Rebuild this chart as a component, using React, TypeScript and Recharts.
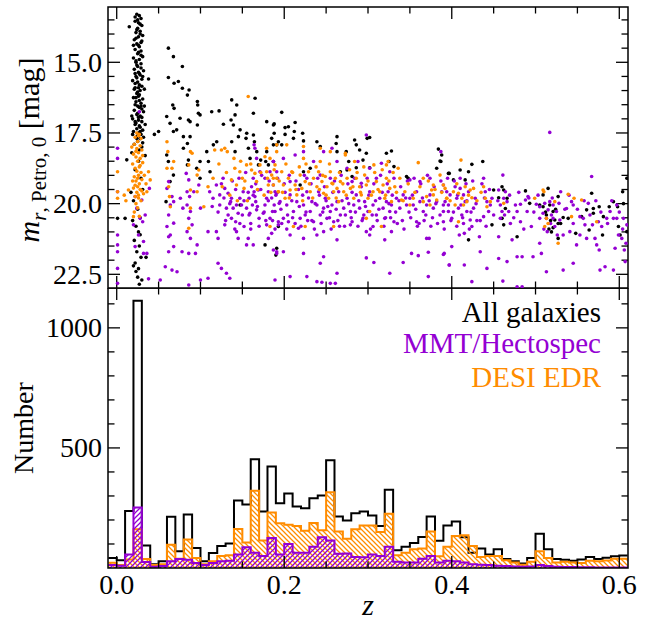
import React from 'react';
import {
  ScatterChart,
  Scatter,
  ComposedChart,
  Area,
  XAxis,
  YAxis,
  ReferenceLine,
  ReferenceArea,
} from 'recharts';

// colours used by the paper figure
const BLACK = '#000000';
const PURPLE = '#9400d3';
const ORANGE = '#ff8c00';
const FONT = '"Liberation Serif", "Times New Roman", serif';

// redshift axis
const zTicks = [0, 0.05, 0.1, 0.15, 0.2, 0.25, 0.3, 0.35, 0.4, 0.45, 0.5, 0.55, 0.6];
const zMajor = [0, 0.2, 0.4, 0.6];
// magnitude axis (top panel)
const magTicks = [13.5, 14, 14.5, 15, 15.5, 16, 16.5, 17, 17.5, 18, 18.5, 19, 19.5, 20, 20.5, 21, 21.5, 22, 22.5];
const magMajor = [15, 17.5, 20, 22.5];
// count axis (bottom panel)
const countTicks = [100, 200, 300, 400, 500, 600, 700, 800, 900, 1000, 1100];
const countMajor = [500, 1000];

// histogram bins (left edges, width 0.01) and counts
const binStart = [
  -0.01, 0.0, 0.01, 0.02, 0.03, 0.04, 0.05, 0.06, 0.07, 0.08, 0.09, 0.1, 0.11, 0.12, 0.13, 0.14,
  0.15, 0.16, 0.17, 0.18, 0.19, 0.2, 0.21, 0.22, 0.23, 0.24, 0.25, 0.26, 0.27, 0.28, 0.29, 0.3,
  0.31, 0.32, 0.33, 0.34, 0.35, 0.36, 0.37, 0.38, 0.39, 0.4, 0.41, 0.42, 0.43, 0.44, 0.45, 0.46,
  0.47, 0.48, 0.49, 0.5, 0.51, 0.52, 0.53, 0.54, 0.55, 0.56, 0.57, 0.58, 0.59, 0.6, 0.61,
];
const allCounts = [
  42, 32, 237, 1113, 94, 16, 28, 213, 70, 223, 83, 28, 62, 92, 102, 281, 264, 453, 235, 423, 270,
  310, 256, 249, 290, 302, 449, 214, 198, 228, 235, 219, 175, 326, 74, 89, 104, 129, 214, 113, 177,
  194, 128, 64, 81, 56, 78, 37, 28, 19, 42, 143, 78, 37, 34, 30, 35, 46, 37, 43, 49, 52, 52,
];
const mmtCounts = [
  12, 9, 56, 252, 25, 5, 8, 28, 37, 34, 21, 12, 21, 28, 30, 56, 86, 63, 50, 125, 56, 100, 64, 64,
  88, 128, 114, 59, 60, 46, 45, 56, 50, 88, 26, 23, 23, 39, 50, 23, 30, 28, 23, 16, 14, 12, 9, 8, 6,
  5, 6, 12, 8, 5, 4, 4, 3, 3, 2, 2, 2, 2, 2,
];
const desiCounts = [
  22, 12, 35, 161, 37, 12, 16, 97, 39, 119, 42, 16, 28, 50, 53, 162, 106, 322, 114, 231, 186, 180,
  175, 155, 187, 157, 315, 152, 122, 161, 177, 177, 150, 226, 53, 63, 78, 81, 152, 49, 88, 133, 136,
  92, 46, 50, 50, 32, 23, 14, 26, 70, 42, 23, 26, 23, 21, 30, 28, 31, 39, 39, 39,
];

// [z, m_r] pairs
const allGalaxies: [number, number][] = [
  [0.024,13.3],[0.027,13.35],[0.029,13.45],[0.022,13.55],[0.026,13.6],[0.03,13.7],[0.025,13.8],[0.023,13.95],
  [0.028,14.0],[0.026,14.1],[0.021,14.2],[0.03,14.25],[0.024,14.35],[0.027,14.45],[0.022,14.55],[0.029,14.6],
  [0.025,14.7],[0.031,14.8],[0.02,14.85],[0.027,14.9],[0.023,15.0],[0.029,15.05],[0.025,15.15],[0.021,15.25],
  [0.032,15.3],[0.026,15.35],[0.028,15.45],[0.023,15.5],[0.03,15.6],[0.019,15.65],[0.025,15.7],[0.027,15.8],
  [0.022,15.9],[0.033,15.95],[0.028,16.0],[0.024,16.1],[0.026,16.2],[0.02,16.25],[0.031,16.3],[0.023,16.4],
  [0.029,16.45],[0.025,16.55],[0.027,16.6],[0.021,16.7],[0.032,16.75],[0.024,16.85],[0.028,16.9],[0.019,17.0],
  [0.026,17.05],[0.03,17.1],[0.022,17.2],[0.027,17.25],[0.024,17.35],[0.031,17.4],[0.02,17.45],[0.026,17.5],
  [0.029,17.55],[0.023,17.65],[0.028,17.7],[0.025,17.8],[0.021,17.9],[0.03,18.0],[0.027,18.1],[0.018,18.2],
  [0.034,18.3],[0.026,18.5],[0.022,18.8],[0.029,19.1],[0.031,19.5],[0.02,19.9],[0.025,20.2],[0.028,20.5],
  [0.023,20.8],[0.026,21.0],[0.021,21.3],[0.027,21.5],[0.024,21.7],[0.029,21.9],[0.022,22.1],[0.026,22.3],
  [0.025,22.6],[0.027,22.85],[0.023,22.4],[0.028,21.1],[0.019,20.6],
  [0.025,13.5],[0.028,13.9],[0.023,14.15],[0.026,14.4],[0.029,14.75],[0.024,15.1],[0.027,15.4],[0.022,15.75],
  [0.03,15.85],[0.025,16.05],[0.027,16.35],[0.022,16.5],[0.03,16.65],[0.026,16.95],[0.023,17.15],[0.028,17.3],
  [0.025,17.6],[0.031,17.85],[0.027,16.15],[0.024,15.55],[0.029,14.3],[0.021,15.95],[0.033,16.55],[0.018,16.9],
  [0.034,17.2],[0.038,15.59],[0.045,17.55],[0.05,17.45],[0.012,18.45],[0.01,20.52],[0.001,20.52],[0.015,13.74],
  [0.017,19.6],[0.035,21.9],[0.03,22.7],[0.02,22.2],
  [0.022,13.4],[0.028,13.65],[0.024,13.85],[0.031,14.05],[0.02,14.4],[0.026,14.65],[0.023,14.95],[0.029,15.2],
  [0.022,15.4],[0.031,15.5],[0.026,15.9],[0.023,16.25],[0.029,16.55],[0.025,16.8],[0.03,16.95],[0.022,17.1],
  [0.028,17.45],[0.024,17.7],[0.019,17.55],[0.032,17.65],
  [0.0617,14.5],[0.0677,14.8],[0.0784,15.15],[0.0617,15.54],[0.0685,15.74],[0.0784,15.92],[0.0864,15.98],
  [0.0844,16.16],[0.0963,16.39],[0.0967,16.51],[0.0669,16.51],[0.0685,16.63],[0.0597,16.92],[0.0637,17.16],
  [0.0856,17.04],[0.0876,17.1],[0.0975,16.8],[0.0995,16.86],[0.0963,17.22],[0.1134,16.75],[0.1222,16.72],
  [0.1373,16.33],[0.1433,16.51],[0.1413,16.86],[0.1365,17.04],[0.1274,17.19],[0.1652,16.27],[0.1632,16.8],
  [0.1791,17.1],[0.1871,17.22],[0.0677,17.45],[0.0716,17.39],[0.0796,17.63],[0.0876,17.63],[0.0844,17.87],
  [0.0796,18.04],[0.0856,18.46],[0.0844,18.63],[0.0955,18.75],[0.0995,18.51],[0.1075,18.16],[0.1154,17.92],
  [0.1194,17.81],[0.1095,18.51],[0.1114,18.87],[0.0995,19.1],[0.1373,17.81],[0.1413,18.16],[0.1473,17.39],
  [0.1544,17.69],[0.1552,17.51],[0.1632,17.57],[0.1644,17.81],[0.1672,18.16],[0.1692,18.63],[0.1592,18.4],
  [0.1719,18.46],[0.1791,18.16],[0.1871,17.92],[0.193,17.81],[0.0597,18.28],[0.0617,18.51],[0.0637,19.22],
  [0.0677,18.99],[0.0589,19.93],[0.0756,16.98],[0.0736,15.68],[0.1393,17.22],[0.1453,17.63],[0.1572,18.04],
  [0.1779,18.51],[0.1871,18.51],[0.1811,18.63],[0.1473,20.05],[0.1771,21.46],[0.191,21.58],
  [0.197,16.77],[0.188,17.18],[0.213,17.13],[0.201,17.31],[0.205,17.28],[0.188,17.51],[0.201,17.55],[0.212,17.45],
  [0.211,17.69],[0.222,17.51],[0.223,17.78],[0.191,17.92],[0.197,17.92],[0.185,17.69],[0.239,17.81],[0.243,17.98],
  [0.263,17.63],[0.262,17.87],[0.263,18.16],[0.284,17.75],[0.286,17.92],[0.29,18.1],[0.299,17.69],[0.302,17.66],
  [0.298,18.22],[0.274,18.16],[0.277,18.51],[0.275,18.81],[0.286,18.73],[0.294,18.46],[0.302,18.73],[0.322,18.22],
  [0.328,18.14],[0.325,18.51],[0.331,18.69],[0.231,18.75],[0.223,18.87],[0.219,19.34],[0.267,18.87],[0.281,19.04],
  [0.346,19.04],[0.348,19.1],[0.382,18.75],[0.384,18.07],[0.387,18.51],[0.396,18.93],[0.193,20.81],[0.19,21.82],
  [0.386,18.49],[0.388,18.28],[0.397,18.93],[0.41,18.81],[0.42,18.87],[0.424,18.61],[0.437,18.51],[0.416,19.16],
  [0.402,19.16],[0.45,19.52],[0.46,19.4],[0.462,19.52],[0.456,19.79],[0.466,19.81],[0.464,20.17],[0.46,20.52],
  [0.462,20.75],[0.448,20.75],[0.478,21.17],[0.42,21.28],[0.488,19.55],[0.493,19.99],[0.505,20.05],[0.509,20.11],
  [0.515,19.46],[0.517,20.05],[0.521,20.28],[0.523,20.58],[0.527,20.7],[0.521,20.85],[0.513,20.4],[0.527,21.23],
  [0.527,19.75],[0.533,20.49],[0.539,20.52],[0.548,21.05],[0.555,20.46],[0.561,20.22],[0.567,19.63],[0.569,20.17],
  [0.569,20.34],[0.576,20.11],[0.581,20.46],[0.564,20.93],[0.58,21.11],[0.588,20.11],[0.593,19.93],[0.598,20.11],
  [0.604,19.58],[0.609,19.1],[0.599,20.81],[0.601,21.11],[0.609,20.99],[0.605,20.0],[0.509,19.69],
  [0.512,20.3],[0.518,20.6],[0.524,20.2],[0.516,20.9],[0.53,20.7],[0.519,21.0],
];

const mmtHectospec: [number, number][] = [
  [0.001,18.04],[0.001,18.4],[0.001,19.58],[0.001,21.11],[0.001,21.46],[0.001,21.7],[0.001,22.29],[0.001,22.82],
  [0.027,16.75],[0.022,19.75],[0.03,19.87],[0.024,20.16],[0.028,20.52],[0.02,20.75],[0.031,20.64],[0.026,21.11],
  [0.032,21.34],[0.022,21.52],[0.036,21.76],[0.032,21.76],[0.039,19.46],[0.034,20.4],
  [0.062,19.22],[0.06,19.46],[0.064,20.05],[0.066,19.75],[0.068,19.93],[0.062,20.4],[0.068,20.69],[0.06,20.81],
  [0.064,21.11],[0.062,21.17],[0.068,21.52],[0.062,21.7],[0.078,21.7],[0.066,22.35],[0.072,22.41],[0.058,22.23],
  [0.076,19.81],[0.079,20.16],[0.083,18.93],[0.086,19.16],[0.084,19.58],[0.087,19.75],[0.084,20.05],[0.088,20.28],
  [0.086,20.52],[0.09,20.75],[0.084,20.99],[0.088,21.23],[0.086,21.76],[0.094,21.76],[0.096,21.46],[0.092,19.58],
  [0.098,19.34],[0.1,20.16],[0.109,20.99],[0.119,20.99],[0.121,21.23],[0.121,22.11],[0.125,22.29],[0.131,22.46],
  [0.135,22.64],[0.109,22.64],[0.086,22.88],[0.1,22.7],[0.052,22.7],[0.038,22.66],
  [0.127,19.1],[0.129,19.46],[0.133,19.63],[0.136,19.93],[0.139,20.16],[0.137,20.52],[0.143,20.05],[0.145,20.34],
  [0.142,20.64],[0.147,19.81],[0.151,19.58],[0.149,20.05],[0.155,20.16],[0.158,19.81],[0.161,19.4],[0.163,19.1],
  [0.164,19.58],[0.159,20.34],[0.162,20.05],[0.165,19.75],[0.166,19.93],[0.167,20.22],[0.169,19.52],[0.17,20.52],
  [0.16,20.7],[0.157,21.23],[0.163,21.46],[0.152,20.81],[0.175,20.34],[0.177,20.05],[0.179,19.81],[0.181,19.58],
  [0.183,20.52],[0.179,20.75],[0.185,21.05],[0.188,20.05],[0.189,20.28],[0.191,19.63],[0.193,20.64],[0.194,19.99],
  [0.187,19.34],[0.181,21.23],[0.191,21.7],[0.167,18.4],[0.164,17.92],[0.165,18.04],[0.171,18.87],[0.177,19.1],
  [0.183,18.87],[0.187,18.51],[0.133,20.4],[0.137,19.81],[0.131,20.16],[0.123,20.05],[0.129,20.75],[0.143,20.99],
  [0.155,21.46],[0.145,21.23],[0.119,19.34],[0.115,19.81],[0.111,19.58],[0.123,19.69],
  [0.187,18.51],[0.191,18.87],[0.189,19.58],[0.195,19.93],[0.186,20.28],[0.199,20.52],[0.193,20.75],[0.203,20.05],
  [0.207,19.69],[0.211,20.28],[0.205,20.64],[0.215,19.93],[0.219,20.52],[0.217,20.87],[0.223,20.05],[0.227,19.58],
  [0.225,20.4],[0.231,20.28],[0.235,20.64],[0.233,19.93],[0.239,20.05],[0.243,20.4],[0.241,19.58],[0.247,20.16],
  [0.251,20.52],[0.249,19.81],[0.255,20.28],[0.257,20.05],[0.259,20.64],[0.263,19.93],[0.267,20.4],[0.265,19.58],
  [0.271,20.16],[0.275,19.81],[0.279,20.28],[0.283,20.05],[0.281,20.64],[0.286,19.69],[0.29,20.16],[0.294,20.52],
  [0.296,19.93],[0.3,20.28],[0.302,19.58],[0.306,20.05],[0.31,20.4],[0.314,19.81],[0.318,20.16],[0.32,20.52],
  [0.322,19.93],[0.324,19.58],[0.326,20.28],[0.328,20.05],[0.331,20.64],[0.334,19.81],[0.338,20.16],[0.342,19.69],
  [0.346,20.05],[0.35,19.81],[0.354,20.05],[0.358,19.58],[0.362,19.93],[0.366,20.28],[0.37,20.05],[0.374,19.69],
  [0.378,20.16],[0.382,19.93],[0.386,20.4],[0.39,20.05],[0.394,19.58],[0.396,20.28],
  [0.199,18.4],[0.213,18.28],[0.223,18.16],[0.235,18.51],[0.247,18.16],[0.257,18.04],[0.263,18.51],[0.275,18.75],
  [0.288,18.51],[0.298,17.57],[0.302,18.75],[0.316,18.57],[0.31,19.1],[0.326,18.87],[0.35,19.16],[0.362,19.22],
  [0.374,19.1],[0.387,18.16],[0.39,19.34],[0.255,19.1],[0.243,18.99],[0.227,19.1],[0.207,19.22],[0.281,19.22],
  [0.292,19.28],
  [0.207,21.11],[0.223,21.23],[0.239,21.11],[0.247,20.99],[0.263,21.28],[0.279,20.75],[0.298,20.99],[0.302,21.11],
  [0.306,20.81],[0.32,21.28],[0.328,20.99],[0.358,20.64],[0.37,21.23],[0.39,20.64],[0.199,21.7],[0.223,21.76],
  [0.247,21.88],[0.243,22.11],[0.263,22.46],[0.239,22.76],[0.245,22.78],[0.255,22.82],[0.261,22.82],[0.227,22.58],
  [0.207,22.58],[0.189,22.7],[0.298,21.92],[0.307,22.08],[0.326,22.46],[0.342,22.08],[0.352,21.76],[0.36,21.84],
  [0.372,21.72],[0.373,21.23],[0.372,22.58],[0.39,21.8],[0.397,22.17],[0.187,21.64],[0.191,21.76],
  [0.388,19.58],[0.392,19.93],[0.39,20.28],[0.396,20.05],[0.398,19.69],[0.4,20.52],[0.404,19.4],[0.406,19.81],
  [0.408,20.16],[0.41,19.46],[0.411,20.05],[0.412,20.4],[0.414,19.69],[0.416,19.93],[0.418,20.28],[0.42,19.58],
  [0.409,21.11],[0.415,21.05],[0.424,20.81],[0.422,20.58],[0.426,20.16],[0.428,19.81],[0.433,21.17],[0.438,19.1],
  [0.44,19.58],[0.442,19.93],[0.444,20.28],[0.446,20.05],[0.438,20.46],[0.448,19.81],[0.456,19.52],[0.458,20.05],
  [0.46,20.28],[0.458,20.52],[0.461,18.99],[0.462,19.81],[0.464,19.58],[0.466,19.93],[0.468,20.28],[0.456,21.17],
  [0.47,20.7],[0.472,21.28],[0.476,20.05],[0.482,20.02],[0.488,19.87],[0.49,20.28],[0.482,20.64],[0.478,21.88],
  [0.484,21.88],[0.495,20.81],[0.505,20.11],[0.505,20.52],[0.505,21.4],[0.507,21.76],[0.509,20.34],[0.511,19.99],
  [0.513,20.52],[0.514,20.99],[0.515,20.22],[0.517,19.93],[0.518,20.7],[0.519,20.4],[0.521,20.05],[0.521,20.52],
  [0.523,20.81],[0.525,20.28],[0.526,21.11],[0.528,19.99],[0.529,20.58],[0.53,19.58],[0.533,21.11],[0.537,20.17],
  [0.541,20.99],[0.545,20.05],[0.549,21.46],[0.553,21.11],[0.557,20.52],[0.559,20.75],[0.561,21.23],[0.567,19.04],
  [0.568,20.75],[0.571,21.23],[0.573,21.46],[0.575,20.64],[0.576,21.64],[0.579,20.81],[0.583,22.23],[0.577,22.35],
  [0.593,22.35],[0.595,21.58],[0.597,20.52],[0.599,21.11],[0.603,21.23],[0.605,20.52],[0.606,21.64],[0.607,22.05],
  [0.609,20.75],[0.517,17.48],[0.424,22.76],[0.461,22.74],[0.478,22.94],[0.484,22.94],[0.397,22.17],[0.415,22.17],
  [0.442,22.29],[0.456,21.94],[0.466,22.05],[0.497,21.88],[0.513,22.41],[0.533,22.35],[0.545,22.11],[0.391,21.76],
  [0.4,21.52],[0.434,21.7],[0.491,19.75],[0.501,20.02],[0.478,20.28],[0.543,19.93],[0.553,20.46],[0.563,19.99],
  [0.585,20.52],[0.589,20.28],[0.593,20.52],[0.597,20.05],[0.545,20.7],
  [0.152,19.9],[0.158,20.4],[0.163,19.7],[0.168,20.1],[0.172,19.5],[0.176,20.3],[0.181,19.9],[0.186,20.6],
  [0.19,19.7],[0.196,20.2],[0.201,19.6],[0.204,20.4],[0.209,19.9],[0.213,20.7],[0.218,20.1],[0.222,19.7],
  [0.226,20.3],[0.229,19.8],[0.233,20.6],[0.237,20.0],[0.242,19.7],[0.246,20.3],[0.25,19.9],[0.254,20.5],
  [0.258,19.6],[0.262,20.2],[0.266,20.8],[0.269,19.9],[0.273,20.4],[0.277,20.0],[0.281,19.6],[0.285,20.3],
  [0.289,19.9],[0.293,20.6],[0.297,20.1],[0.301,19.7],[0.305,20.4],[0.309,19.9],[0.313,20.2],[0.317,19.6],
  [0.321,20.5],[0.325,20.0],[0.329,19.7],[0.333,20.3],[0.337,19.9],[0.341,20.6],[0.345,19.8],[0.349,20.3],
  [0.353,19.7],[0.357,20.2],[0.361,20.7],[0.365,19.8],[0.369,20.4],[0.373,19.9],[0.377,20.5],[0.381,20.0],
  [0.142,19.5],[0.147,20.7],[0.135,20.0],[0.128,19.8],[0.121,20.3],[0.114,20.1],[0.402,20.3],[0.407,19.7],
  [0.413,20.5],[0.418,19.9],[0.423,20.3],[0.429,20.0],[0.434,20.6],[0.439,19.8],
  [0.125,19.3],[0.13,20.6],[0.138,19.2],[0.141,20.9],[0.146,19.1],[0.15,20.4],[0.154,18.9],[0.157,19.6],
  [0.16,20.9],[0.166,19.3],[0.17,20.8],[0.173,19.0],[0.178,20.6],[0.182,19.2],[0.185,19.8],[0.189,20.9],
  [0.192,19.1],[0.197,20.7],[0.2,19.3],[0.203,20.9],[0.206,19.0],[0.21,20.5],[0.214,19.2],[0.217,19.5],
  [0.22,20.8],[0.224,19.0],[0.228,20.6],[0.232,19.3],[0.236,20.9],[0.24,19.1],[0.244,20.7],[0.248,19.4],
  [0.252,20.1],[0.256,20.9],[0.26,19.2],[0.264,20.6],[0.268,19.0],[0.272,20.8],[0.276,19.3],[0.28,20.5],
  [0.284,19.1],[0.288,20.8],[0.292,19.4],[0.295,20.4],[0.299,19.1],[0.303,20.9],[0.307,19.3],[0.311,20.6],
  [0.315,19.0],[0.319,20.8],[0.323,19.3],[0.327,20.5],[0.331,19.1],[0.335,20.7],[0.339,19.4],[0.343,20.9],
  [0.347,19.2],[0.351,20.5],[0.355,19.1],[0.359,20.8],[0.363,19.3],[0.367,20.6],[0.371,19.0],[0.375,20.8],
  [0.379,19.4],[0.383,20.7],[0.387,19.2],[0.391,20.9],[0.395,19.1],[0.399,20.6],[0.403,19.2],[0.406,20.8],
  [0.41,19.1],[0.414,20.7],[0.417,19.3],[0.421,20.9],[0.425,19.2],[0.43,20.6],[0.436,19.3],[0.441,20.8],
  [0.445,19.5],[0.45,20.4],[0.455,19.9],[0.463,20.4],[0.469,19.7],[0.474,20.5],[0.48,19.6],[0.486,20.9],
  [0.492,19.8],[0.498,20.3],[0.503,19.7],[0.51,20.9],[0.52,19.8],[0.535,20.2],[0.54,19.7],[0.55,20.2],
  [0.558,19.9],[0.565,20.4],[0.572,19.9],[0.578,20.3],[0.586,20.7],[0.591,19.9],[0.6,20.3],[0.604,20.9],
  [0.608,21.4],
];

const desiEdr: [number, number][] = [
  [0.024,17.5],[0.027,17.55],[0.022,17.65],[0.029,17.7],[0.025,17.8],[0.021,17.9],[0.028,17.95],[0.024,18.05],
  [0.03,18.1],[0.026,18.2],[0.02,18.25],[0.023,18.35],[0.028,18.4],[0.025,18.5],[0.031,18.55],[0.019,18.6],
  [0.027,18.7],[0.022,18.75],[0.024,18.85],[0.029,18.9],[0.026,19.0],[0.021,19.05],[0.03,19.15],[0.023,19.2],
  [0.027,19.3],[0.025,19.4],[0.02,19.45],[0.028,19.5],[0.024,19.6],[0.032,19.65],[0.022,19.75],[0.026,19.8],
  [0.029,19.9],[0.023,20.0],[0.025,20.15],[0.021,20.3],[0.027,20.45],[0.019,19.2],[0.031,18.3],[0.018,18.0],
  [0.033,19.0],[0.035,19.3],[0.038,18.87],[0.014,19.52],[0.011,19.9],[0.009,19.7],[0.001,19.81],[0.001,19.58],
  [0.001,18.87],[0.04,19.16],[0.036,19.58],[0.02,20.46],[0.026,17.6],[0.023,18.15],[0.028,18.65],[0.025,19.1],
  [0.022,19.35],[0.03,19.55],[0.026,19.7],
  [0.06,17.81],[0.061,18.16],[0.06,18.75],[0.062,19.4],[0.063,19.75],[0.064,20.11],[0.066,18.75],[0.068,18.51],
  [0.088,18.16],[0.09,18.22],[0.086,18.63],[0.088,19.52],[0.088,20.16],[0.086,20.87],[0.096,18.99],[0.098,18.81],
  [0.096,19.58],[0.104,20.11],[0.109,19.4],[0.115,19.1],[0.117,18.1],[0.125,18.1],[0.129,18.04],[0.132,18.16],
  [0.137,19.16],[0.141,18.75],[0.143,19.34],[0.147,18.87],[0.15,19.1],[0.152,19.46],[0.155,18.63],[0.157,16.21],
  [0.161,18.81],[0.165,18.93],[0.167,19.22],[0.171,18.63],[0.177,18.34],[0.179,18.87],[0.181,19.34],[0.183,18.4],
  [0.187,19.1],[0.189,18.63],[0.191,18.16],[0.193,19.58],[0.179,18.04],
  [0.185,18.99],[0.187,19.34],[0.191,19.1],[0.193,19.58],[0.197,18.87],[0.199,19.34],[0.201,19.81],[0.205,19.1],
  [0.207,19.52],[0.209,18.87],[0.213,19.34],[0.215,19.69],[0.219,18.99],[0.221,19.46],[0.223,18.4],[0.225,19.22],
  [0.229,18.87],[0.231,19.58],[0.235,19.1],[0.239,19.4],[0.241,18.87],[0.243,18.51],[0.245,19.22],[0.247,19.63],
  [0.249,19.04],[0.251,19.4],[0.253,19.81],[0.255,18.87],[0.257,19.28],[0.259,19.58],[0.261,19.1],[0.263,19.46],
  [0.265,19.93],[0.267,19.22],[0.271,19.58],[0.273,18.28],[0.275,19.1],[0.279,19.46],[0.283,19.81],[0.286,19.1],
  [0.29,19.4],[0.292,19.69],[0.296,18.99],[0.298,19.34],[0.3,19.81],[0.302,20.28],[0.306,19.58],[0.31,19.22],
  [0.314,19.58],[0.318,19.34],[0.32,19.81],[0.322,19.1],[0.324,18.51],[0.326,19.46],[0.328,19.93],[0.332,19.4],
  [0.336,18.75],[0.316,20.81],[0.298,20.52],[0.259,20.81],[0.225,20.81],[0.211,20.81],[0.183,20.81],[0.191,17.92],
  [0.203,17.92],[0.223,17.98],[0.243,18.04],[0.255,18.16],[0.273,18.22],[0.284,18.51],[0.307,18.63],[0.322,18.63],
  [0.36,18.55],[0.366,19.1],[0.376,19.52],[0.378,19.34],[0.366,19.93],[0.37,19.75],[0.378,19.69],[0.382,19.87],
  [0.374,20.05],[0.392,19.46],[0.394,19.81],[0.354,19.81],[0.35,20.05],[0.34,19.87],[0.344,19.58],
  [0.386,18.99],[0.39,19.34],[0.394,19.81],[0.402,19.58],[0.408,19.63],[0.411,18.46],[0.412,19.81],[0.414,20.05],
  [0.416,19.4],[0.418,19.93],[0.422,19.52],[0.426,19.46],[0.424,19.79],[0.408,20.64],[0.438,19.4],[0.44,19.81],
  [0.442,20.11],[0.446,19.93],[0.462,19.99],[0.499,19.81],[0.509,19.52],[0.51,19.58],[0.513,20.52],[0.511,20.81],
  [0.523,19.93],[0.527,21.4],[0.539,19.67],[0.543,20.46],[0.546,19.81],[0.555,19.87],[0.573,20.64],[0.515,20.7],
  [0.404,20.05],
  [0.122,18.6],[0.126,19.4],[0.131,18.9],[0.135,19.7],[0.14,18.4],[0.144,19.9],[0.148,18.5],[0.153,19.2],
  [0.156,19.9],[0.16,18.6],[0.168,19.5],[0.172,18.9],[0.176,19.7],[0.18,19.1],[0.184,19.6],[0.188,18.8],
  [0.194,19.2],[0.198,19.6],[0.202,18.6],[0.206,19.8],[0.21,18.9],[0.214,19.5],[0.218,18.7],[0.222,19.9],
  [0.226,18.6],[0.23,19.3],[0.234,19.8],[0.238,18.7],[0.242,19.5],[0.246,19.0],[0.25,19.7],[0.254,18.6],
  [0.258,19.3],[0.262,19.8],[0.266,18.9],[0.27,19.3],[0.274,19.7],[0.278,18.8],[0.282,19.4],[0.287,18.9],
  [0.291,19.6],[0.295,18.7],[0.3,19.2],[0.304,19.7],[0.308,18.9],[0.312,19.5],[0.317,18.8],[0.321,19.7],
  [0.325,19.2],[0.33,18.9],[0.334,19.6],[0.338,19.1],[0.342,19.9],[0.348,19.3],[0.356,19.6],[0.362,19.4],
  [0.372,19.2],[0.38,19.5],[0.388,19.6],[0.398,19.9],[0.406,19.3],[0.42,19.7],[0.43,19.9],[0.435,19.6],
];

const histData = binStart.map((z, i) => ({
  z,
  all: allCounts[i],
  mmt: mmtCounts[i],
  desi: desiCounts[i],
}));
const toXY = (pts: [number, number][]) => pts.map(([z, m]) => ({ z, m }));

const X_DOMAIN: [number, number] = [-0.0104, 0.6104];
const MAG_DOMAIN: [number, number] = [13.044, 22.984];
const COUNT_DOMAIN: [number, number] = [0, 1166];

const near = (v: number, list: number[]) => list.some((l) => Math.abs(l - v) < 1e-6);

// tick lengths (12px major / 6.5px minor) expressed in each axis' units
const PX_Z = (X_DOMAIN[1] - X_DOMAIN[0]) / 520;
const PX_MAG = (MAG_DOMAIN[1] - MAG_DOMAIN[0]) / 281;
const PX_COUNT = (COUNT_DOMAIN[1] - COUNT_DOMAIN[0]) / 280;
const MAJOR = 12;
const MINOR = 6.5;
const tickStyle = { stroke: BLACK, strokeWidth: 1.3 };

// inward ticks on all four sides, drawn through the chart's own scales
const frameTicks = (
  yDomain: [number, number],
  pxY: number,
  yTicks: number[],
  yMajor: number[],
  key: string,
) => {
  const [y0, y1] = yDomain;
  const [x0, x1] = X_DOMAIN;
  const out: React.ReactNode[] = [];
  zTicks.forEach((v) => {
    const len = (near(v, zMajor) ? MAJOR : MINOR) * pxY;
    out.push(<ReferenceLine key={`${key}b${v}`} segment={[{ x: v, y: y0 }, { x: v, y: y0 + len }]} {...tickStyle} ifOverflow="visible" />);
    out.push(<ReferenceLine key={`${key}t${v}`} segment={[{ x: v, y: y1 }, { x: v, y: y1 - len }]} {...tickStyle} ifOverflow="visible" />);
  });
  yTicks.forEach((v) => {
    const len = (near(v, yMajor) ? MAJOR : MINOR) * PX_Z;
    out.push(<ReferenceLine key={`${key}l${v}`} segment={[{ x: x0, y: v }, { x: x0 + len, y: v }]} {...tickStyle} ifOverflow="visible" />);
    out.push(<ReferenceLine key={`${key}r${v}`} segment={[{ x: x1, y: v }, { x: x1 - len, y: v }]} {...tickStyle} ifOverflow="visible" />);
  });
  return out;
};

const BottomLabel = ({ x, y, payload }: any) =>
  near(payload.value, zMajor) ? (
    <text x={x} y={y + 26} textAnchor="middle" fontFamily={FONT} fontSize={28} fill={BLACK}>
      {payload.value.toFixed(1)}
    </text>
  ) : (
    <g />
  );

const LeftLabel = ({ x, y, payload, majors, digits }: any) =>
  near(payload.value, majors) ? (
    <text x={x - 6} y={y} dy="0.34em" textAnchor="end" fontFamily={FONT} fontSize={28} fill={BLACK}>
      {payload.value.toFixed(digits)}
    </text>
  ) : (
    <g />
  );

const dot = (color: string) => (p: any) => <circle cx={p.cx} cy={p.cy} r={1.8} fill={color} />;

export default function App() {
  return (
    <div style={{ position: 'absolute', left: 0, top: 0, width: 654, height: 628, background: '#fff' }}>
      <div style={{ position: 'absolute', left: 0, top: 0 }}>
        <ScatterChart width={654} height={300} margin={{ top: 7, right: 26, bottom: 12, left: 0 }}>
          <XAxis type="number" dataKey="z" domain={X_DOMAIN} allowDataOverflow ticks={zTicks} hide />
          <YAxis
            type="number"
            dataKey="m"
            reversed
            domain={MAG_DOMAIN}
            allowDataOverflow
            ticks={magTicks}
            interval={0}
            width={108}
            tickSize={0}
            tickMargin={0}
            axisLine={false}
            tickLine={false}
            tick={<LeftLabel majors={magMajor} digits={1} />}
          />
          <Scatter data={toXY(allGalaxies)} fill={BLACK} shape={dot(BLACK)} isAnimationActive={false} />
          <Scatter data={toXY(mmtHectospec)} fill={PURPLE} shape={dot(PURPLE)} isAnimationActive={false} />
          <Scatter data={toXY(desiEdr)} fill={ORANGE} shape={dot(ORANGE)} isAnimationActive={false} />
          <ReferenceArea
            x1={X_DOMAIN[0]}
            x2={X_DOMAIN[1]}
            y1={MAG_DOMAIN[0]}
            y2={MAG_DOMAIN[1]}
            fill="none"
            fillOpacity={0}
            stroke={BLACK}
            strokeWidth={1.5}
            ifOverflow="visible"
          />
          {frameTicks([MAG_DOMAIN[1], MAG_DOMAIN[0]], -PX_MAG, magTicks, magMajor, 'm')}
        </ScatterChart>
      </div>

      <div style={{ position: 'absolute', left: 0, top: 288 }}>
        <ComposedChart width={654} height={340} data={histData} margin={{ top: 0, right: 26, bottom: 0, left: 0 }}>
          <defs>
            <pattern id="hatchOrange" patternUnits="userSpaceOnUse" width={5} height={5}>
              <path d="M0,0 L5,5 M-1,4 L1,6 M4,-1 L6,1" stroke={ORANGE} strokeWidth={1.25} />
            </pattern>
            <pattern id="hatchPurple" patternUnits="userSpaceOnUse" width={5} height={5}>
              <path d="M0,5 L5,0 M-1,1 L1,-1 M4,6 L6,4" stroke={PURPLE} strokeWidth={1.25} />
            </pattern>
          </defs>
          <XAxis
            type="number"
            dataKey="z"
            domain={X_DOMAIN}
            allowDataOverflow
            ticks={zTicks}
            interval={0}
            height={60}
            tickSize={0}
            tickMargin={0}
            axisLine={false}
            tickLine={false}
            tick={<BottomLabel />}
          />
          <YAxis
            type="number"
            domain={COUNT_DOMAIN}
            allowDataOverflow
            ticks={countTicks}
            interval={0}
            width={108}
            tickSize={0}
            tickMargin={0}
            axisLine={false}
            tickLine={false}
            tick={<LeftLabel majors={countMajor} digits={0} />}
          />
          <Area type="stepAfter" dataKey="all" stroke={BLACK} strokeWidth={2} fill="none" isAnimationActive={false} dot={false} activeDot={false} />
          <Area type="stepAfter" dataKey="desi" stroke={ORANGE} strokeWidth={2} fill="url(#hatchOrange)" fillOpacity={1} isAnimationActive={false} dot={false} activeDot={false} />
          <Area type="stepAfter" dataKey="mmt" stroke={PURPLE} strokeWidth={2} fill="url(#hatchPurple)" fillOpacity={1} isAnimationActive={false} dot={false} activeDot={false} />
          <ReferenceArea
            x1={X_DOMAIN[0]}
            x2={X_DOMAIN[1]}
            y1={COUNT_DOMAIN[0]}
            y2={COUNT_DOMAIN[1]}
            fill="none"
            fillOpacity={0}
            stroke={BLACK}
            strokeWidth={1.5}
            ifOverflow="visible"
          />
          {frameTicks(COUNT_DOMAIN, PX_COUNT, countTicks, countMajor, 'c')}
        </ComposedChart>
      </div>

      {/* axis titles and legend */}
      <svg width={654} height={628} style={{ position: 'absolute', left: 0, top: 0, pointerEvents: 'none' }}>
        <text transform="translate(39,150) rotate(-90)" textAnchor="middle" fontFamily={FONT} fontSize={30} fill={BLACK}>
          <tspan fontStyle="italic">m</tspan>
          <tspan dy={7} fontSize={21} fontStyle="italic">r</tspan>
          <tspan fontSize={21}>, Petro, 0</tspan>
          <tspan dy={-7}> [mag]</tspan>
        </text>
        <text transform="translate(33,428) rotate(-90)" textAnchor="middle" fontFamily={FONT} fontSize={28} fill={BLACK}>
          Number
        </text>
        <text x={368} y={615} textAnchor="middle" fontFamily={FONT} fontSize={30} fontStyle="italic" fill={BLACK}>
          z
        </text>
        <g fontFamily={FONT} fontSize={29} textAnchor="end">
          <text x={601} y={322} fill={BLACK}>All galaxies</text>
          <text x={601} y={353} fill={PURPLE}>MMT/Hectospec</text>
          <text x={601} y={387} fill={ORANGE}>DESI EDR</text>
        </g>
      </svg>
    </div>
  );
}
